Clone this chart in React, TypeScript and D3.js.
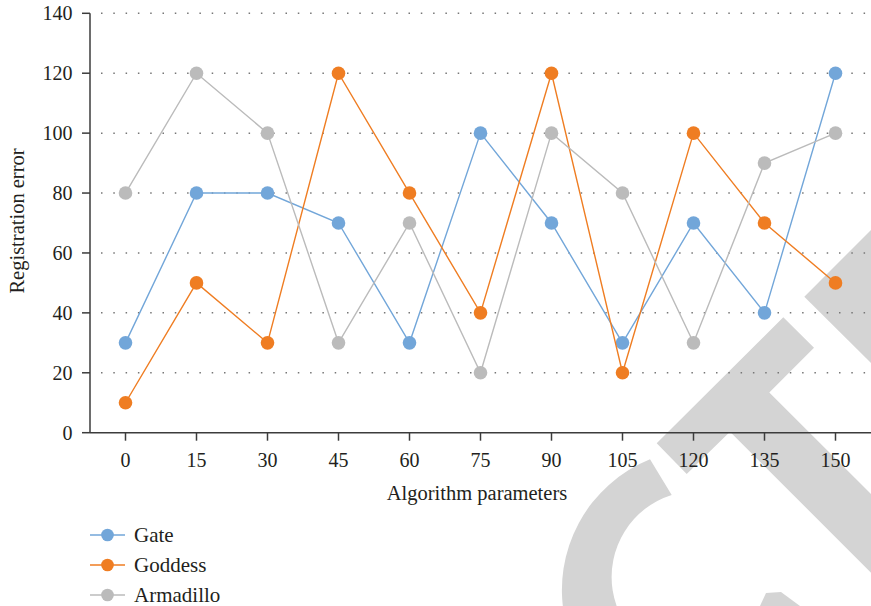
import React from "react";
import * as d3 from "d3";

const categories = ["0", "15", "30", "45", "60", "75", "90", "105", "120", "135", "150"];
const gate = [30, 80, 80, 70, 30, 100, 70, 30, 70, 40, 120];
const goddess = [10, 50, 30, 120, 80, 40, 120, 20, 100, 70, 50];
const armadillo = [80, 120, 100, 30, 70, 20, 100, 80, 30, 90, 100];
const yTicks = [0, 20, 40, 60, 80, 100, 120, 140];

const seriesNames = ["Gate", "Goddess", "Armadillo"];
const seriesValues = [gate, goddess, armadillo];
const seriesColors = ["#72a6d9", "#ef7d22", "#bbbbbb"];

const W = 871;
const H = 606;
const FONT = "'Liberation Serif', 'Times New Roman', serif";
const TEXT = "#231f20";
const AXIS = "#3c3c3c";

export default function App() {
  const margin = { left: 90, right: 0, top: 13.3, bottom: 432.7 };
  const x = d3
    .scaleBand<string>()
    .domain(categories)
    .range([margin.left, W - margin.right])
    .paddingInner(0)
    .paddingOuter(0);
  const cx = (c: string) => (x(c) as number) + x.bandwidth() / 2;
  const y = d3.scaleLinear().domain([0, 140]).range([margin.bottom, margin.top]);

  const line = d3
    .line<number>()
    .x((_, i) => cx(categories[i]))
    .y((v) => y(v));

  // background mark: letter-like shapes in light gray
  const arcPath =
    "M 650 459.3 A 141 141 0 0 0 703.5 731 L 698 663 A 86 86 0 0 1 671.7 495 Z";
  const stemPoly = [
    [656.7, 443.3],
    [783.3, 317.3],
    [814, 347.7],
    [769.3, 392.4],
    [900, 523.1],
    [900, 601.7],
    [730, 431.7],
    [686.7, 474],
  ];
  const topPoly = [
    [804.3, 296.7],
    [880, 221],
    [880, 372],
  ];
  const footPoly = [
    [766, 593],
    [781, 592],
    [800, 606],
    [760, 606],
  ];
  const poly = (pts: number[][]) => pts.map((p) => p.join(",")).join(" ");

  return (
    <div style={{ position: "fixed", left: 0, top: 0, width: W, height: H, background: "#fff" }}>
      <svg width={W} height={H} viewBox={`0 0 ${W} ${H}`} style={{ display: "block" }}>
        <rect x={0} y={0} width={W} height={H} fill="#fff" />
        <g fill="#d4d4d4">
          <path d={arcPath} />
          <polygon points={poly(stemPoly)} />
          <polygon points={poly(topPoly)} />
          <polygon points={poly(footPoly)} />
        </g>

        {/* dotted horizontal gridlines */}
        <g>
          {yTicks
            .filter((t) => t > 0)
            .map((t) => (
              <line
                key={t}
                x1={101}
                x2={W}
                y1={y(t)}
                y2={y(t)}
                stroke="#777"
                strokeWidth={1.5}
                strokeDasharray="1.5 10.8"
              />
            ))}
        </g>

        {/* y axis */}
        <line x1={margin.left} x2={margin.left} y1={y(140)} y2={y(0)} stroke={AXIS} strokeWidth={1.5} />
        {yTicks.map((t) => (
          <g key={t}>
            <line x1={margin.left - 8} x2={margin.left} y1={y(t)} y2={y(t)} stroke={AXIS} strokeWidth={1.5} />
            <text
              x={72.5}
              y={y(t)}
              dy="0.34em"
              textAnchor="end"
              fontFamily={FONT}
              fontSize={20}
              fill={TEXT}
            >
              {t}
            </text>
          </g>
        ))}

        {/* x axis */}
        <line x1={margin.left} x2={W} y1={y(0)} y2={y(0)} stroke={AXIS} strokeWidth={1.5} />
        {categories.map((c) => (
          <g key={c}>
            <line x1={cx(c)} x2={cx(c)} y1={y(0)} y2={y(0) + 8} stroke={AXIS} strokeWidth={1.5} />
            <text x={cx(c)} y={467} textAnchor="middle" fontFamily={FONT} fontSize={20} fill={TEXT}>
              {c}
            </text>
          </g>
        ))}

        <text x={477} y={500} textAnchor="middle" fontFamily={FONT} fontSize={20.5} fill={TEXT}>
          Algorithm parameters
        </text>
        <text
          transform={`translate(24, 221) rotate(-90)`}
          textAnchor="middle"
          fontFamily={FONT}
          fontSize={20.5}
          fill={TEXT}
        >
          Registration error
        </text>

        {/* series */}
        {seriesValues.map((vals, si) => (
          <g key={seriesNames[si]}>
            <path d={line(vals) as string} fill="none" stroke={seriesColors[si]} strokeWidth={1.4} />
            {vals.map((v, i) => (
              <circle key={i} cx={cx(categories[i])} cy={y(v)} r={6.8} fill={seriesColors[si]} />
            ))}
          </g>
        ))}

        {/* legend */}
        {seriesNames.map((name, i) => {
          const ly = 535 + i * 30;
          return (
            <g key={name}>
              <line x1={90} x2={125} y1={ly} y2={ly} stroke={seriesColors[i]} strokeWidth={1.4} />
              <circle cx={107.5} cy={ly} r={6.3} fill={seriesColors[i]} />
              <text x={134} y={ly} dy="0.34em" fontFamily={FONT} fontSize={21} fill={TEXT}>
                {name}
              </text>
            </g>
          );
        })}
      </svg>
    </div>
  );
}
